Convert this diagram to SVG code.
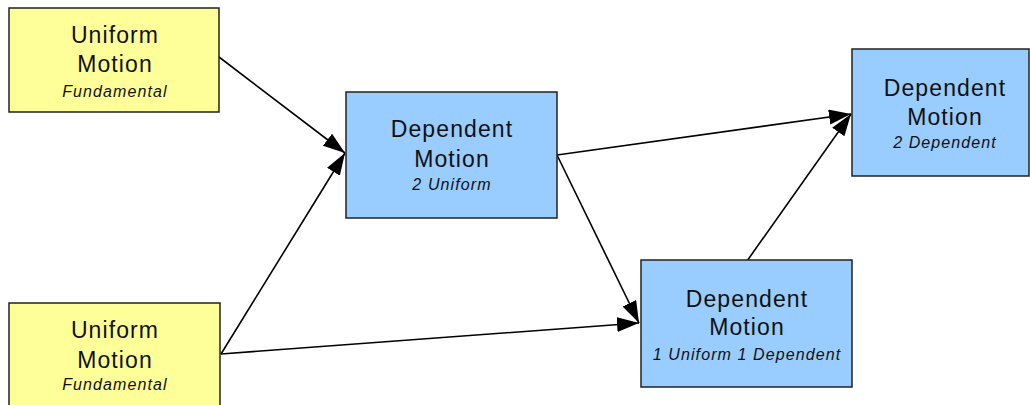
<svg xmlns="http://www.w3.org/2000/svg" width="1030" height="405" viewBox="0 0 1030 405">
  <style>
    .box { stroke: #222; stroke-width: 1.5; }
    .uniform { fill: #FFFF99; }
    .dependent { fill: #99CCFF; }
    .title { font-family: "Liberation Sans", Arial, sans-serif; font-size: 23px; letter-spacing: 1.1px; fill: #111; text-anchor: middle; }
    .sub { font-family: "Liberation Sans", Arial, sans-serif; font-size: 16px; letter-spacing: 1.1px; font-style: italic; fill: #111; text-anchor: middle; }
    .edge { stroke: #000; stroke-width: 1.6; fill: none; marker-end: url(#arrow); }
  </style>
  <defs>
    <marker id="arrow" markerUnits="userSpaceOnUse" markerWidth="24" markerHeight="18" refX="22" refY="7.5" orient="auto">
      <path d="M0,0 L22,7.5 L0,15 z" fill="#000"/>
    </marker>
  </defs>
  <rect width="1030" height="405" fill="#fff"/>

  <g id="connectors">
    <line class="edge" x1="219" y1="57" x2="345" y2="153"/>
    <line class="edge" x1="221" y1="354" x2="345" y2="153"/>
    <line class="edge" x1="221" y1="354" x2="639" y2="323"/>
    <line class="edge" x1="557" y1="155" x2="851" y2="114"/>
    <line class="edge" x1="557" y1="155" x2="639" y2="323"/>
    <line class="edge" x1="747" y1="261" x2="851" y2="114"/>
  </g>

  <g id="uniform-top">
    <rect class="box uniform" x="9" y="8" width="210" height="104"/>
    <text class="title" x="115" y="43">Uniform</text>
    <text class="title" x="115" y="72">Motion</text>
    <text class="sub" x="115" y="97">Fundamental</text>
  </g>

  <g id="uniform-bottom">
    <rect class="box uniform" x="9" y="303" width="211" height="120"/>
    <text class="title" x="115" y="338">Uniform</text>
    <text class="title" x="115" y="368">Motion</text>
    <text class="sub" x="115" y="390">Fundamental</text>
  </g>

  <g id="dependent-2-uniform">
    <rect class="box dependent" x="346" y="92" width="211" height="126"/>
    <text class="title" x="452" y="137">Dependent</text>
    <text class="title" x="452" y="167">Motion</text>
    <text class="sub" x="452" y="190">2 Uniform</text>
  </g>

  <g id="dependent-mixed">
    <rect class="box dependent" x="641" y="260" width="211" height="127"/>
    <text class="title" x="747" y="307">Dependent</text>
    <text class="title" x="747" y="335">Motion</text>
    <text class="sub" x="747" y="360">1 Uniform 1 Dependent</text>
  </g>

  <g id="dependent-2-dependent">
    <rect class="box dependent" x="852" y="49" width="177" height="127"/>
    <text class="title" x="945" y="96">Dependent</text>
    <text class="title" x="945" y="125">Motion</text>
    <text class="sub" x="945" y="148">2 Dependent</text>
  </g>
</svg>
